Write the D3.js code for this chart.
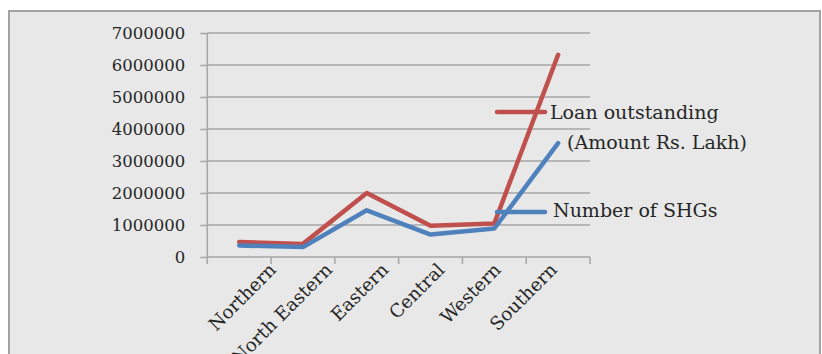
<!DOCTYPE html>
<html><head><meta charset="utf-8">
<script src="https://cdn.jsdelivr.net/npm/d3@7"></script>
<style>
html,body{margin:0;padding:0;background:#fff;}
svg text{font-family:"DejaVu Serif",serif;fill:#262626;}
</style></head>
<body>
<svg id="chart" width="822" height="354"></svg>
<script>
const categories = ["Northern","North Eastern","Eastern","Central","Western","Southern"];
const loanOutstanding = [470000, 410000, 2000000, 980000, 1050000, 6320000];
const numberOfSHGs = [360000, 310000, 1460000, 700000, 890000, 3560000];
const yTicks = [0,1000000,2000000,3000000,4000000,5000000,6000000,7000000];
const seriesNames = [["Loan outstanding","(Amount Rs. Lakh)"],["Number of SHGs"]];
const seriesColors = ["#C0504D","#4F81BD"];

const svg = d3.select("#chart");
// panel
svg.append("rect").attr("x",9).attr("y",11).attr("width",811).attr("height",360)
  .attr("fill","#e7e8e7").attr("stroke","#a3a3a3").attr("stroke-width",2);

const x0 = 207.3, x1 = 590, yB = 257, yT = 33;
const x = d3.scaleBand().domain(categories).range([x0,x1]);
const y = d3.scaleLinear().domain([0,7000000]).range([yB,yT]);
const gridColor = "#a6a6a6";

// gridlines
svg.append("g").selectAll("line").data(yTicks.slice(1)).join("line")
  .attr("x1",x0).attr("x2",x1).attr("y1",d=>y(d)).attr("y2",d=>y(d))
  .attr("stroke",gridColor).attr("stroke-width",1.5);

// y axis
const yAxis = svg.append("g").attr("transform",`translate(${x0},0)`)
  .call(d3.axisLeft(y).tickValues(yTicks).tickFormat(d3.format("d")).tickSize(7).tickPadding(15));
yAxis.selectAll("line,path").attr("stroke",gridColor).attr("stroke-width",1.5);
yAxis.select("path").attr("d",`M0,${yT}V${yB}`);
yAxis.selectAll("text").attr("font-size","16.5px").attr("font-family","DejaVu Serif").attr("fill","#262626");

// x axis
const xa = svg.append("g");
xa.append("line").attr("x1",x0).attr("x2",x1).attr("y1",yB).attr("y2",yB).attr("stroke",gridColor).attr("stroke-width",1.5);
const bounds = categories.map(c=>x(c)).concat([x1]);
xa.selectAll("line.t").data(bounds).join("line").attr("class","t")
  .attr("x1",d=>d).attr("x2",d=>d).attr("y1",yB).attr("y2",yB+7)
  .attr("stroke",gridColor).attr("stroke-width",1.5);
const labelPos = d3.scalePoint().domain(categories).range([x(categories[0])+x.bandwidth()/2+38, x(categories[5])+x.bandwidth()/2]);
xa.selectAll("text").data(categories).join("text")
  .attr("transform",d=>`translate(${labelPos(d)},${yB+14}) rotate(-45)`)
  .attr("text-anchor","end").attr("font-size","18.3px").text(d=>d);

// lines
const line = d3.line().x((d,i)=>x(categories[i])+x.bandwidth()/2).y(d=>y(d));
[loanOutstanding, numberOfSHGs].forEach((s,k)=>{
  svg.append("path").datum(s).attr("d",line).attr("fill","none")
    .attr("stroke",seriesColors[k]).attr("stroke-width",4.5)
    .attr("stroke-linejoin","round").attr("stroke-linecap","round");
});

// legend
const leg = [{ky:112, lines:[[550,119],[567,148.5]]},{ky:212, lines:[[553,217]]}];
leg.forEach((l,k)=>{
  svg.append("line").attr("x1",497).attr("x2",545).attr("y1",l.ky).attr("y2",l.ky)
    .attr("stroke",seriesColors[k]).attr("stroke-width",4.5).attr("stroke-linecap","round");
  l.lines.forEach((p,j)=>{
    svg.append("text").attr("x",p[0]).attr("y",p[1]).attr("font-size","19px").text(seriesNames[k][j]);
  });
});
</script>
</body></html>
